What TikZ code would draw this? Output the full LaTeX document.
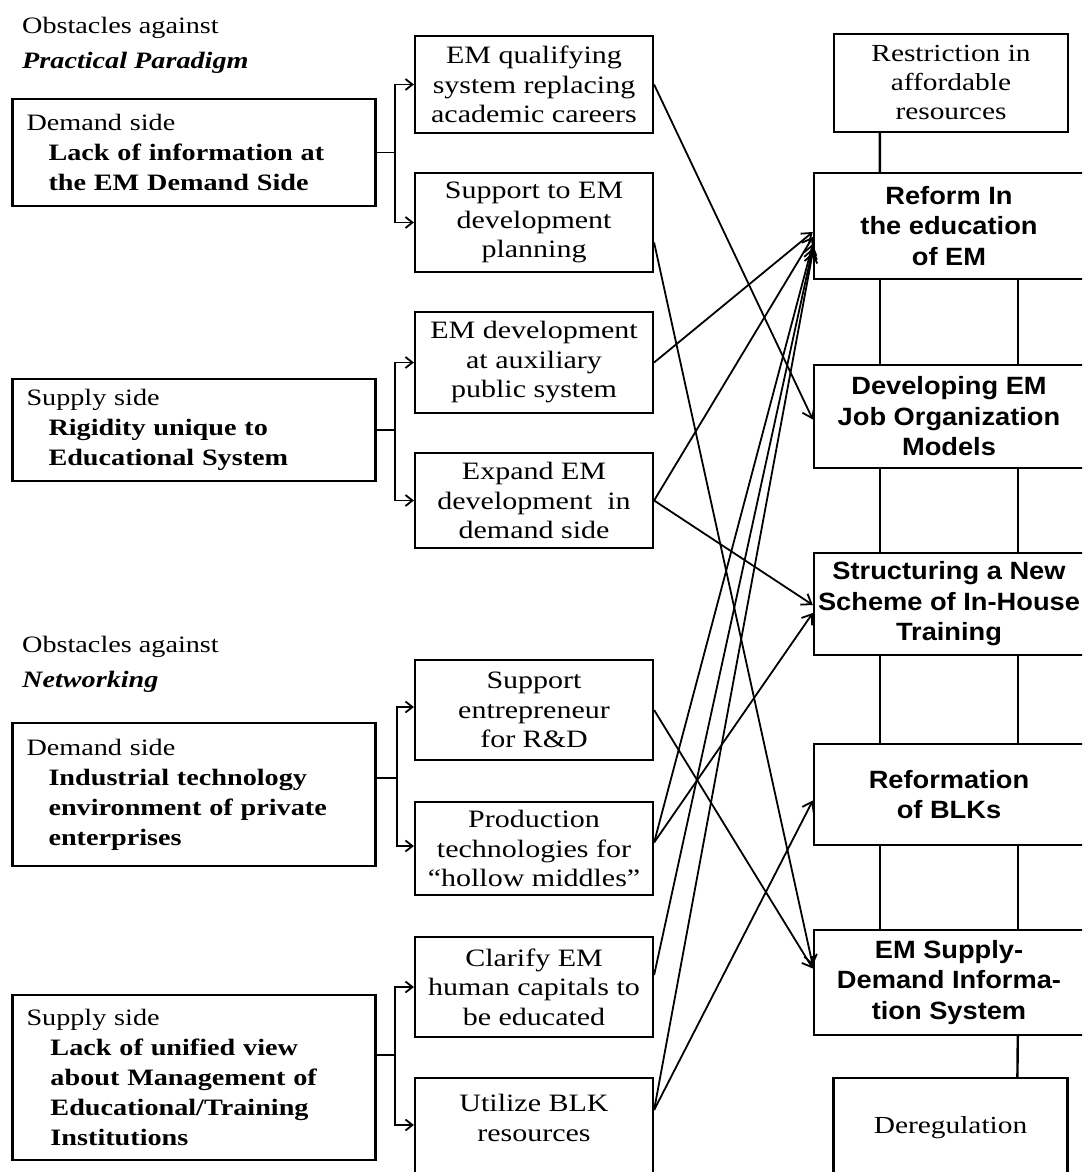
\documentclass[tikz,border=0pt]{standalone}
\usepackage{fontspec}
\setmainfont{Liberation Serif}[FakeStretch=1.2]
\newfontfamily\goalfont{Liberation Sans}[FakeStretch=1.09]
\usetikzlibrary{arrows.meta,calc}

\begin{document}
\begin{tikzpicture}[x=1pt,y=-1pt,
  obstacle/.style={draw, line width=2.2pt, minimum width=363pt, text width=335pt,
    inner xsep=14pt, inner ysep=0pt, align=left,
    font=\fontsize{23.5}{30}\selectfont},
  heading/.style={anchor=west, inner sep=0pt, font=\fontsize{23.5}{30}\selectfont},
  measure/.style={draw, line width=2.2pt, minimum width=238pt, inner sep=0pt,
    align=center, font=\fontsize{25}{29.5}\selectfont},
  measuretext/.style={inner sep=0pt, align=center, font=\fontsize{25}{29.5}\selectfont},
  goal/.style={draw, line width=2.4pt, minimum width=270pt, inner sep=0pt,
    align=center, font=\goalfont\bfseries\fontsize{25}{30.5}\selectfont},
  frame/.style={draw, line width=2.2pt, minimum width=234pt, inner sep=0pt,
    align=center, font=\fontsize{24.5}{29}\selectfont},
  fork/.style={line width=1.8pt},
  forkarrow/.style={line width=1.8pt, -{Straight Barb[length=7pt,width=11pt]}},
  conn/.style={line width=1.8pt, -{Straight Barb[length=9pt,width=13pt]}},
  link/.style={line width=2.4pt}
]
\path[use as bounding box] (0,0) rectangle (1082,1172);
\clip (0,0) rectangle (1082,1172);

% headings
\node[heading] (T1a) at (22,28) {Obstacles against};
\node[heading] (T1b) at (22,63) {\textbf{\textit{Practical Paradigm}}};
\node[heading] (T2a) at (22,647) {Obstacles against};
\node[heading] (T2b) at (22,682) {\textbf{\textit{Networking}}};

% obstacles
\node[obstacle, minimum height=107pt] (L1) at (194,152.5)
  {Demand side\\\hspace*{22pt}\textbf{Lack of information at}\\\hspace*{22pt}\textbf{the EM Demand Side}};
\node[obstacle, minimum height=102pt] (L2) at (194,430)
  {Supply side\\\hspace*{22pt}\textbf{Rigidity unique to}\\\hspace*{22pt}\textbf{Educational System}};
\node[obstacle, minimum height=143pt] (L3) at (194,794.5)
  {Demand side\\\hspace*{22pt}\textbf{Industrial technology}\\\hspace*{22pt}\textbf{environment of private}\\\hspace*{22pt}\textbf{enterprises}};
\node[obstacle, minimum height=165pt] (L4) at (194,1077.5)
  {Supply side\\\hspace*{24pt}\textbf{Lack of unified view}\\\hspace*{24pt}\textbf{about Management of}\\\hspace*{24pt}\textbf{Educational/Training}\\\hspace*{24pt}\textbf{Institutions}};

% measures
\node[measure, minimum height=97pt]  (M1) at (534,84.5)  {EM qualifying\\system replacing\\academic careers};
\node[measure, minimum height=99pt]  (M2) at (534,222.5) {Support to EM\\development\\planning};
\node[measure, minimum height=101pt] (M3) at (534,362.5) {EM development\\at auxiliary\\public system};
\node[measure, minimum height=95pt]  (M4) at (534,500.5) {Expand EM\\development\ \ in\\demand side};
\node[measure, minimum height=100pt] (M5) at (534,710)   {Support\\entrepreneur\\for R\&D};
\node[measure, minimum height=93pt]  (M6) at (534,848.5) {Production\\technologies for\\``hollow middles''};
\node[measure, minimum height=100pt] (M7) at (534,987)   {Clarify EM\\human capitals to\\be educated};
\node[measure, minimum height=122pt] (M8) at (534,1139)  {};
\node[measuretext] (M8t) at (534,1118) {Utilize BLK\\resources};

% goals
\node[frame, minimum height=98pt] (R0) at (951,83) {Restriction in\\affordable\\resources};
\node[goal, minimum height=106pt] (R1) at (949,226)   {Reform In\\the education\\of EM};
\node[goal, minimum height=103pt] (R2) at (949,416.5) {Developing EM\\Job Organization\\Models};
\node[goal, minimum height=102pt] (R3) at (949,604)   {Structuring a New\\Scheme of In-House\\Training};
\node[goal, minimum height=101pt] (R4) at (949,794.5) {Reformation\\of BLKs};
\node[goal, minimum height=105pt] (R5) at (949,982.5) {EM Supply-\\Demand Informa-\\tion System};
\node[frame, minimum height=100pt] (R6) at (950.5,1128) {Deregulation};

% ties between the goal boxes
\draw[link] ($(R0.south west)+(47,0)$) -- ($(R1.north west)+(67,0)$);
\foreach \a/\b in {R1/R2,R2/R3,R3/R4,R4/R5}{
  \draw[link] ($(\a.south west)+(67,0)$) -- ($(\b.north west)+(67,0)$);
  \draw[link] ($(\a.south west)+(205,0)$) -- ($(\b.north west)+(205,0)$);
}
\draw[link] ($(R5.south west)+(205,0)$) -- ($(R6.north west)+(185,0)$);

% forks from obstacles to measures
\draw[fork] (L1.east) -- ++(18,0) coordinate (f1);
\draw[forkarrow] (f1) |- (M1.west);
\draw[forkarrow] (f1) |- (M2.west);
\draw[fork] (L2.east) -- ++(18,0) coordinate (f2);
\draw[forkarrow] (f2) |- (M3.west);
\draw[forkarrow] (f2) |- (M4.west);
\draw[fork] ($(L3.east)+(0,-16.5)$) -- ++(20,0) coordinate (f3);
\draw[forkarrow] (f3) |- ($(M5.west)+(0,-3)$);
\draw[forkarrow] (f3) |- ($(M6.west)+(0,-2.5)$);
\draw[fork] ($(L4.east)+(0,-22.5)$) -- ++(18,0) coordinate (f4);
\draw[forkarrow] (f4) |- (M7.west);
\draw[forkarrow] (f4) |- ($(M8.west)+(0,-14)$);

% measures to goals
\draw[conn] (M1.east) -- ($(R2.west)+(0,3)$);
\draw[conn] ($(M2.east)+(0,20)$) -- ($(R5.west)+(0,-17)$);
\draw[conn] (M3.east) -- ($(R1.west)+(0,6)$);
\draw[conn] (M4.east) -- ($(R1.west)+(0,11)$);
\draw[conn] (M4.east) -- ($(R3.west)+(0,1)$);
\draw[conn] (M5.east) -- ($(R5.west)+(0,-14)$);
\draw[conn] ($(M6.east)+(0,-6)$) -- ($(R1.west)+(0,18)$);
\draw[conn] ($(M6.east)+(0,-6)$) -- ($(R3.west)+(0,9)$);
\draw[conn] ($(M7.east)+(0,-12)$) -- ($(R1.west)+(0,22)$);
\draw[conn] ($(M8.east)+(0,-29)$) -- ($(R1.west)+(0,26)$);
\draw[conn] ($(M8.east)+(0,-29)$) -- ($(R4.west)+(0,6)$);
\end{tikzpicture}
\end{document}
